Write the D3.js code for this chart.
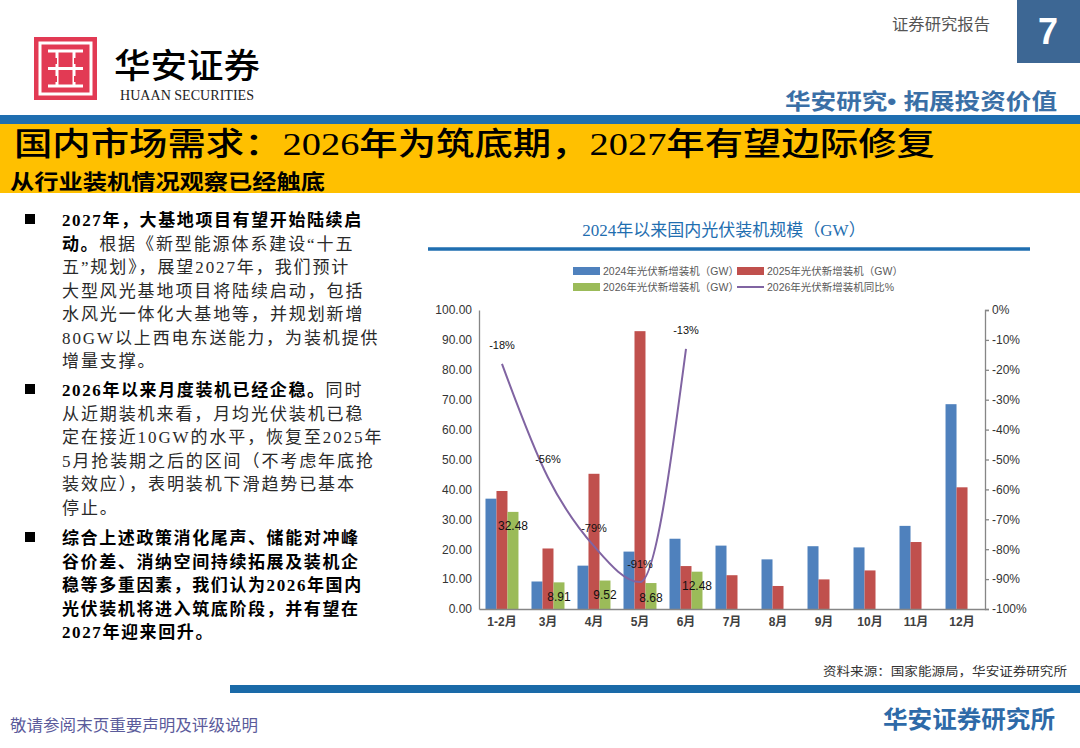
<!DOCTYPE html>
<html>
<head>
<meta charset="utf-8">
<script src="https://cdn.jsdelivr.net/npm/d3@7"></script>
<style>
  body { margin: 0; background: #fff; }
  svg { display: block; }
</style>
</head>
<body>
<div id="page"></div>
<script>
// chart data
const months = ["1-2月", "3月", "4月", "5月", "6月", "7月", "8月", "9月", "10月", "11月", "12月"];
const install2024 = [36.9, 9.2, 14.5, 19.2, 23.5, 21.2, 16.6, 21.0, 20.6, 27.8, 68.5];
const install2025 = [39.47, 20.24, 45.22, 92.92, 14.36, 11.3, 7.7, 9.9, 12.9, 22.4, 40.7];
const install2026 = [32.48, 8.91, 9.52, 8.68, 12.48, null, null, null, null, null, null];
const yoy2026 = [-18, -56, -79, -91, -13];
const leftTicks = [0, 10, 20, 30, 40, 50, 60, 70, 80, 90, 100];
const rightTicks = [0, -10, -20, -30, -40, -50, -60, -70, -80, -90, -100];
const seriesNames = ["2024年光伏新增装机（GW）", "2025年光伏新增装机（GW）", "2026年光伏新增装机（GW）", "2026年光伏新增装机同比%"];

// page text
const paragraphs = [
    [
        [["2027年，大基地项目有望开始陆续启", true]],
        [["动。", true], ["根据《新型能源体系建设“十五", false]],
        [["五”规划》，展望2027年，我们预计", false]],
        [["大型风光基地项目将陆续启动，包括", false]],
        [["水风光一体化大基地等，并规划新增", false]],
        [["80GW以上西电东送能力，为装机提供", false]],
        [["增量支撑。", false]]
    ],
    [
        [["2026年以来月度装机已经企稳。", true], ["同时", false]],
        [["从近期装机来看，月均光伏装机已稳", false]],
        [["定在接近10GW的水平，恢复至2025年", false]],
        [["5月抢装期之后的区间（不考虑年底抢", false]],
        [["装效应），表明装机下滑趋势已基本", false]],
        [["停止。", false]]
    ],
    [
        [["综合上述政策消化尾声、储能对冲峰", true]],
        [["谷价差、消纳空间持续拓展及装机企", true]],
        [["稳等多重因素，我们认为2026年国内", true]],
        [["光伏装机将进入筑底阶段，并有望在", true]],
        [["2027年迎来回升。", true]]
    ]
];

const SERIF = '"Liberation Serif", "Noto Sans CJK SC", serif';
const SANS = '"Liberation Sans", "Noto Sans CJK SC", sans-serif';
const colors = ["#4f81bd", "#c0504d", "#9bbb59", "#8064a2"];

const svg = d3.select("#page")
    .append("svg")
    .attr("width", 1080)
    .attr("height", 748);

function addText(x, y, str, opts = {}) {
    const t = svg.append("text")
        .attr("x", x)
        .attr("y", y)
        .attr("font-family", opts.family || SANS)
        .attr("font-size", opts.size || 12)
        .attr("font-weight", opts.weight || "normal")
        .attr("fill", opts.fill || "#000")
        .attr("text-anchor", opts.anchor || "start")
        .text(str);
    if (opts.length) t.attr("textLength", opts.length).attr("lengthAdjust", "spacingAndGlyphs");
    return t;
}

// ---- header ----
const logo = svg.append("g").attr("transform", "translate(34,37)");
logo.append("rect").attr("width", 63).attr("height", 63).attr("fill", "#e23a54");
logo.append("rect").attr("x", 6).attr("y", 6).attr("width", 51).attr("height", 51)
    .attr("fill", "none").attr("stroke", "#fff").attr("stroke-width", 3);
logo.append("path")
    .attr("d", "M14,14 H49 M14,31.5 H49 M14,49 H49 M23,14 V49 M40,14 V49")
    .attr("stroke", "#fff").attr("stroke-width", 3).attr("fill", "none");
[[17, 20], [42, 20], [17, 38], [42, 38]].forEach(p => {
    logo.append("rect").attr("x", p[0] - 2).attr("y", p[1] + 1).attr("width", 8).attr("height", 6).attr("fill", "#e23a54");
});
addText(114, 78, "华安证券", { size: 34, weight: 500, family: SANS, length: 146 });
addText(120, 100, "HUAAN SECURITIES", { size: 14.5, family: SERIF, fill: "#222", length: 134 });

addText(892, 30, "证券研究报告", { size: 16, family: SERIF, fill: "#555", length: 98 });
svg.append("rect").attr("x", 1017).attr("y", 0).attr("width", 63).attr("height", 63).attr("fill", "#3d6794");
addText(1048, 44, "7", { size: 36, weight: 700, fill: "#fff", anchor: "middle", family: '"Liberation Sans", sans-serif' });
addText(785, 109, "华安研究• 拓展投资价值", { size: 22, weight: 700, fill: "#3a6fa6", length: 272 });

// title band
svg.append("rect").attr("x", 0).attr("y", 115).attr("width", 1080).attr("height", 9).attr("fill", "#1f6eb0");
svg.append("rect").attr("x", 0).attr("y", 124).attr("width", 1080).attr("height", 69).attr("fill", "#ffc000");
addText(14, 155, "国内市场需求：2026年为筑底期，2027年有望边际修复", { size: 32, weight: 500, family: SERIF, length: 921 });
addText(10, 189, "从行业装机情况观察已经触底", { size: 21, weight: 700, family: SERIF, length: 315 });

// ---- left text ----
const paraStart = [220, 390, 538];
const lineHeight = 23.5;
paragraphs.forEach((lines, p) => {
    svg.append("rect").attr("x", 25).attr("y", paraStart[p] - 6).attr("width", 10).attr("height", 10).attr("fill", "#000");
    lines.forEach((segs, i) => {
        const t = svg.append("text")
            .attr("x", 62)
            .attr("y", paraStart[p] + i * lineHeight + 6)
            .attr("font-family", SERIF)
            .attr("font-size", 17);
        segs.forEach(s => {
            t.append("tspan")
                .attr("font-weight", s[1] ? 700 : 400)
                .attr("fill", s[1] ? "#000" : "#2a2a2a")
                .style("letter-spacing", s[1] ? "1.6px" : "1.9px")
                .text(s[0]);
        });
    });
});

// ---- chart ----
addText(724, 236, "2024年以来国内光伏装机规模（GW）", { size: 17, family: SERIF, fill: "#1f6eb0", anchor: "middle" });
svg.append("line").attr("x1", 428).attr("x2", 1030).attr("y1", 249).attr("y2", 249)
    .attr("stroke", "#1f6eb0").attr("stroke-width", 3.5);

// legend
const legend = svg.append("g");
const legendItems = legend.selectAll(".legend-item")
    .data(seriesNames)
    .enter().append("g")
    .attr("transform", (d, i) => `translate(${573 + (i % 2) * 164}, ${271 + Math.floor(i / 2) * 16})`);
legendItems.each(function (d, i) {
    const g = d3.select(this);
    if (i < 3) {
        g.append("rect").attr("x", 0).attr("y", -4).attr("width", 27).attr("height", 8).attr("fill", colors[i]);
    } else {
        g.append("line").attr("x1", 0).attr("x2", 27).attr("y1", 0).attr("y2", 0)
            .attr("stroke", colors[i]).attr("stroke-width", 2);
    }
    g.append("text").attr("x", 30).attr("y", 3.5)
        .attr("font-family", SANS).attr("font-size", 10.5).attr("fill", "#595959")
        .text(d);
});

// scales
const x0Scale = d3.scaleBand()
    .domain(months)
    .range([479, 985])
    .paddingInner(0.283)
    .paddingOuter(0.141);
const x1Scale = d3.scaleBand()
    .domain([0, 1, 2])
    .range([0, x0Scale.bandwidth()]);
const yLeft = d3.scaleLinear().domain([0, 100]).range([609, 310]);
const yRight = d3.scaleLinear().domain([-100, 0]).range([609, 310]);

// bars
const barSeries = [install2024, install2025, install2026];
const groups = svg.append("g").selectAll("g")
    .data(months)
    .enter().append("g")
    .attr("transform", d => `translate(${x0Scale(d)},0)`);
groups.selectAll("rect")
    .data((m, i) => barSeries.map((s, k) => ({ k: k, value: s[i] })).filter(d => d.value != null))
    .enter().append("rect")
    .attr("x", d => x1Scale(d.k))
    .attr("width", x1Scale.bandwidth())
    .attr("y", d => yLeft(d.value))
    .attr("height", d => yLeft(0) - yLeft(d.value))
    .attr("fill", d => colors[d.k]);

// axes
const axisColor = "#868686";
const leftAxis = svg.append("g")
    .attr("transform", "translate(479,0)")
    .call(d3.axisLeft(yLeft).tickValues(leftTicks).tickSize(0).tickPadding(7).tickFormat(d3.format(".2f")));
const rightAxis = svg.append("g")
    .attr("transform", "translate(985,0)")
    .call(d3.axisRight(yRight).tickValues(rightTicks).tickSize(4).tickPadding(3).tickFormat(d => d + "%"));
const bottomAxis = svg.append("g")
    .attr("transform", "translate(0,609)")
    .call(d3.axisBottom(x0Scale).tickSize(0).tickPadding(8));
[leftAxis, rightAxis, bottomAxis].forEach(a => {
    a.selectAll("path, line").attr("stroke", axisColor).attr("stroke-width", 1.3);
    a.selectAll("text").attr("font-family", SANS).attr("font-size", 12).attr("fill", "#333");
});
bottomAxis.selectAll("text").attr("font-weight", 700).attr("fill", "#404040");

// green data labels
svg.append("g").selectAll("text")
    .data(install2026.map((v, i) => ({ v: v, m: months[i] })).filter(d => d.v != null))
    .enter().append("text")
    .attr("x", d => x0Scale(d.m) + x1Scale(2) + x1Scale.bandwidth() / 2)
    .attr("y", d => yLeft(d.v) + 18.5)
    .attr("text-anchor", "middle")
    .attr("font-family", SANS).attr("font-size", 12).attr("fill", "#111")
    .text(d => d3.format(".2f")(d.v));

// yoy line
const linePts = yoy2026.map((v, i) => ({ v: v, m: months[i] }));
const lineGen = d3.line()
    .x(d => x0Scale(d.m) + x0Scale.bandwidth() / 2)
    .y(d => yRight(d.v))
    .curve(d3.curveMonotoneX);
svg.append("path")
    .datum(linePts)
    .attr("d", lineGen)
    .attr("fill", "none")
    .attr("stroke", colors[3])
    .attr("stroke-width", 2);
svg.append("g").selectAll("text")
    .data(linePts)
    .enter().append("text")
    .attr("x", d => x0Scale(d.m) + x0Scale.bandwidth() / 2)
    .attr("y", d => yRight(d.v) - 14.5)
    .attr("text-anchor", "middle")
    .attr("font-family", SANS).attr("font-size", 11).attr("fill", "#111")
    .text(d => d.v + "%");

// ---- footer ----
addText(1067, 676, "资料来源：国家能源局，华安证券研究所", { size: 12.5, family: SERIF, fill: "#333", anchor: "end", length: 244 });
svg.append("rect").attr("x", 230).attr("y", 685).attr("width", 850).attr("height", 8).attr("fill", "#1a6aa8");
addText(10, 731, "敬请参阅末页重要声明及评级说明", { size: 16, family: SERIF, fill: "#5b5b9b", length: 248 });
addText(883, 728, "华安证券研究所", { size: 24, weight: 700, fill: "#2e6aa8", length: 172 });
</script>
</body>
</html>
